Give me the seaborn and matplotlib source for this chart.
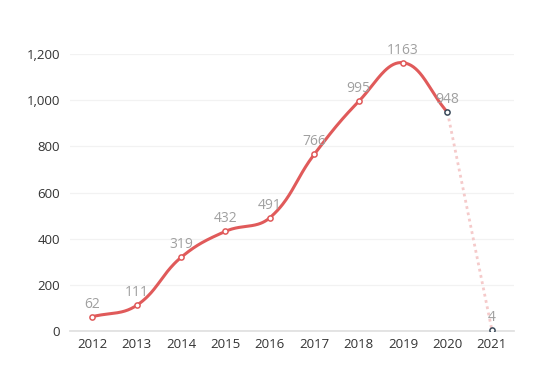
import numpy as np
import pandas as pd
import matplotlib
matplotlib.use("Agg")
import matplotlib.pyplot as plt
import seaborn as sns

years = ['2012', '2013', '2014', '2015', '2016', '2017', '2018', '2019', '2020', '2021']
values = [62, 111, 319, 432, 491, 766, 995, 1163, 948, 4]

LINE = '#e05a5a'
PALE = '#f5caca'


def smooth_path(xs, ys, smooth=0.4, n=40):
    # echarts-like bezier smoothing through the points
    pts = np.column_stack([xs, ys]).astype(float)
    k = len(pts)
    cps = []
    for i in range(k):
        p = pts[i]
        prev = pts[i - 1] if i > 0 else p
        nxt = pts[i + 1] if i < k - 1 else p
        v = nxt - prev
        d0 = np.hypot(*(p - prev))
        d1 = np.hypot(*(nxt - p))
        s = d0 + d1 if d0 + d1 > 0 else 1
        cps.append((p - v * smooth * d0 / s, p + v * smooth * d1 / s))
    out = [pts[0]]
    t = np.linspace(0, 1, n)[1:, None]
    for i in range(k - 1):
        p0, p3 = pts[i], pts[i + 1]
        p1, p2 = cps[i][1], cps[i + 1][0]
        seg = (1 - t) ** 3 * p0 + 3 * (1 - t) ** 2 * t * p1 + 3 * (1 - t) * t ** 2 * p2 + t ** 3 * p3
        out.extend(seg)
    return np.array(out)


sns.set_theme(style='white')
plt.rcParams['font.family'] = ['Open Sans', 'DejaVu Sans']

fig = plt.figure(figsize=(5.54, 3.84), dpi=100)
ax = fig.add_axes([0.1264, 0.138, 0.8016, 0.721])

xpos = np.arange(len(years))
# smoothing done in pixel-like units
sy = 277 / 1200.0
sx = 44.4
solid = smooth_path(xpos[:9] * sx, np.array(values[:9]) * sy)
curve = pd.DataFrame({'x': solid[:, 0] / sx, 'y': solid[:, 1] / sy})
sns.lineplot(data=curve, x='x', y='y', ax=ax, color=LINE, linewidth=2.2, sort=False,
             estimator=None, zorder=3)

tail = pd.DataFrame({'x': xpos[8:], 'y': values[8:]})
sns.lineplot(data=tail, x='x', y='y', ax=ax, color=PALE, linewidth=2.0, linestyle=(0, (1, 1.3)),
             estimator=None, zorder=2)

pts = pd.DataFrame({'x': xpos, 'y': values})
sns.scatterplot(data=pts.iloc[:8], x='x', y='y', ax=ax, s=14, color='white',
                edgecolor=LINE, linewidth=1.1, zorder=4)
sns.scatterplot(data=pts.iloc[8:], x='x', y='y', ax=ax, s=14, color='white',
                edgecolor='#3b4a5a', linewidth=1.1, zorder=4)

for x, v in zip(xpos, values):
    ax.text(x, v + 22, str(v), ha='center', va='bottom', fontsize=10, color='#a0a0a0', zorder=5)

ax.set_xlim(-0.5, len(years) - 0.5)
ax.set_ylim(0, 1200)
ax.set_yticks(range(0, 1201, 200))
ax.set_yticklabels([f'{t:,}' for t in range(0, 1201, 200)])
ax.set_xticks(xpos)
ax.set_xticklabels(years)
ax.set_xlabel('')
ax.set_ylabel('')
ax.grid(axis='y', color='#f2f2f2', linewidth=0.9)
ax.grid(axis='x', visible=False)
for side in ['top', 'right', 'left']:
    ax.spines[side].set_visible(False)
ax.spines['bottom'].set_color('#e0e0e0')
ax.tick_params(axis='both', length=0, labelsize=9.5, colors='#333333')
ax.tick_params(axis='y', pad=7)
ax.tick_params(axis='x', pad=5)

fig.savefig('out.png', dpi=100)
